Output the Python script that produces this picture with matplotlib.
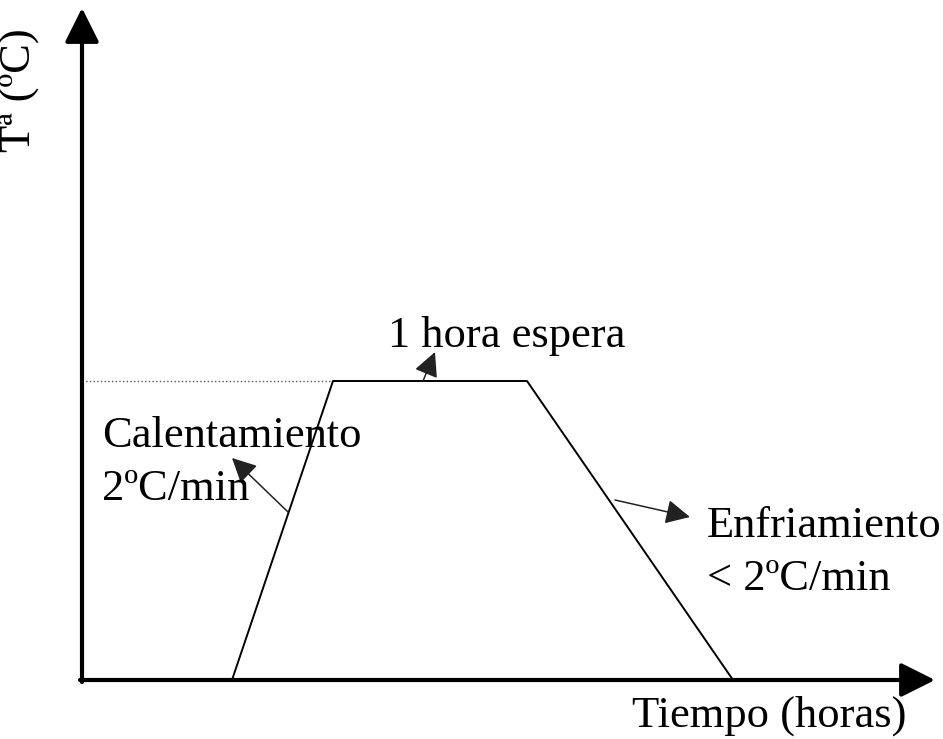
import matplotlib
matplotlib.use('Agg')
import matplotlib.pyplot as plt

# perfil de temperatura (unidades arbitrarias, origen en la esquina de los ejes)
tiempo = [150, 251, 445, 651]
temperatura = [0, 299, 299, 0]

x_max = 853   # largo del eje de tiempo
y_max = 672   # alto del eje de temperatura

fig = plt.figure(figsize=(9.43, 7.39), dpi=100)
ax = fig.add_axes([0, 0, 1, 1])
ax.set_xlim(-82, 943 - 82)
ax.set_ylim(-(739 - 680), 680)
ax.axis('off')

fuente = {'family': 'Liberation Serif', 'size': 32, 'color': 'black'}

# ejes con flecha
estilo_eje = dict(arrowstyle='-|>,head_length=1.0,head_width=0.5', mutation_scale=21,
                  lw=3, color='black', shrinkA=0, shrinkB=0)
ax.annotate('', xy=(0, y_max), xytext=(0, -2), arrowprops=estilo_eje)
ax.annotate('', xy=(x_max, 0), xytext=(-2, 0), arrowprops=estilo_eje)

# linea punteada hasta la meseta
ax.plot([0, tiempo[1]], [temperatura[1], temperatura[1]], ls=':', lw=1, color='#555555')

# perfil
ax.plot(tiempo, temperatura, color='black', lw=1.4)

# flechas de las etiquetas
estilo = dict(arrowstyle='-|>,head_length=1.0,head_width=0.5', mutation_scale=15,
              lw=1.1, color='#222222', shrinkA=0, shrinkB=0)
ax.annotate('', xy=(150, 222), xytext=(206, 168), arrowprops=estilo)
ax.annotate('', xy=(353, 328), xytext=(341, 299), arrowprops=estilo)
ax.annotate('', xy=(608, 163), xytext=(533, 180), arrowprops=estilo)

# textos
ax.text(20, 233, 'Calentamiento', ha='left', va='baseline', **fuente)
ax.text(20, 180, '2ºC/min', ha='left', va='baseline', **fuente)
ax.text(306, 333, '1 hora espera', ha='left', va='baseline', **fuente)
ax.text(625, 143, 'Enfriamiento', ha='left', va='baseline', **fuente)
ax.text(625, 90, '< 2ºC/min', ha='left', va='baseline', **fuente)
ax.text(550, -47, 'Tiempo (horas)', ha='left', va='baseline', **fuente)
ax.text(-62, 590, 'Tª (ºC)', ha='center', va='center', rotation=90, **fuente)

fig.savefig('out.png', dpi=100)
